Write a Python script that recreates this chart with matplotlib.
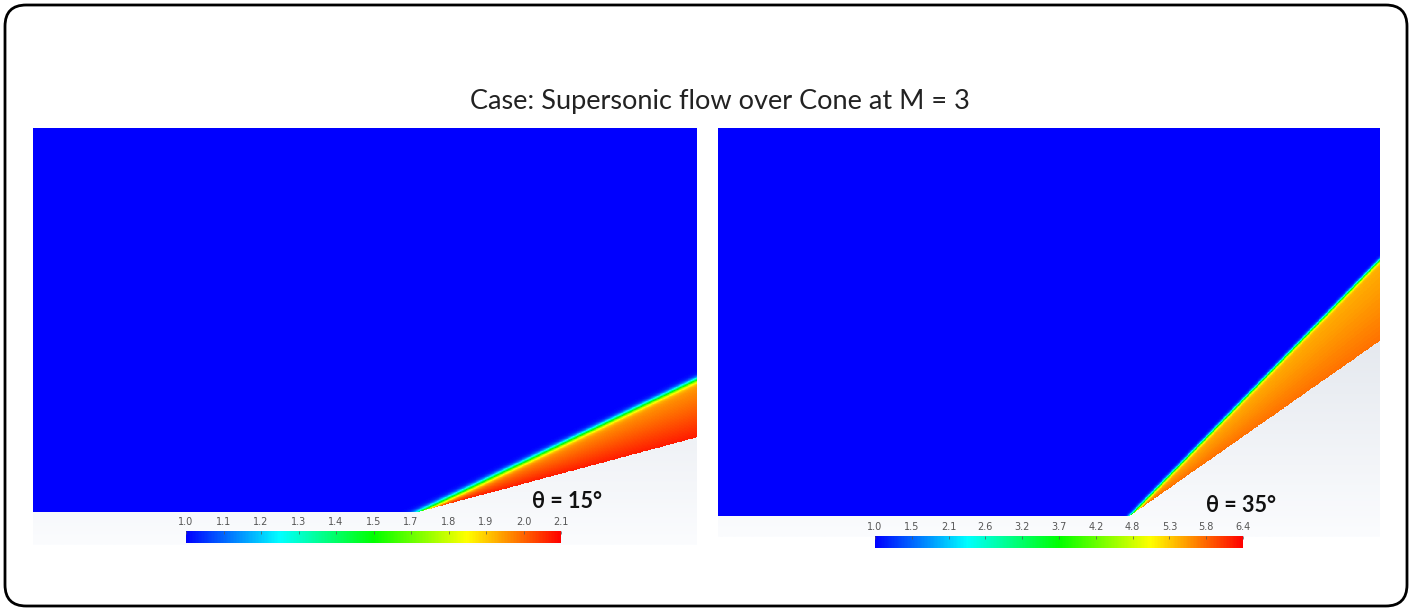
import numpy as np
import matplotlib
matplotlib.use('Agg')
from matplotlib import pyplot as plt
from matplotlib.colors import LinearSegmentedColormap, Normalize
from matplotlib.cm import ScalarMappable
from matplotlib.patches import FancyBboxPatch

W, H = 1414, 611

title = 'Case: Supersonic flow over Cone at M = 3'
case_labels = ['θ = 15°', 'θ = 35°']
cone_angles = [15.0, 35.0]        # cone half angle, deg
shock_angles = [25.5, 45.7]       # shock angle, deg
value_inf = [1.0, 1.0]            # free stream
value_shock_side = [1.92, 5.45]   # just behind the shock
value_wall_side = [2.07, 5.80]    # at the cone surface
cbar_ranges = [(1.0, 2.1), (1.0, 6.4)]
cbar_labels = [
    ['1.0', '1.1', '1.2', '1.3', '1.4', '1.5', '1.7', '1.8', '1.9', '2.0', '2.1'],
    ['1.0', '1.5', '2.1', '2.6', '3.2', '3.7', '4.2', '4.8', '5.3', '5.8', '6.4'],
]

# layout in figure pixels
panels = [
    dict(x0=33, x1=697, top=128, wall=512, bottom=545, tip=419, shock_w=0.008),
    dict(x0=718, x1=1380, top=128, wall=516, bottom=537, tip=1130, shock_w=0.0045),
]
cbar_boxes = [(186, 561, 531, 543), (875, 1243, 536, 548)]
label_pos = [(567, 501), (1241, 505)]

cmap = LinearSegmentedColormap.from_list(
    'bluered', ['#0000ff', '#00ffff', '#00ff00', '#ffff00', '#ff0000'])
bg_cmap = LinearSegmentedColormap.from_list('bg', ['#fbfcfe', '#cdd4de'])


def px_axes(fig, x0, x1, y0, y1):
    return fig.add_axes([x0 / W, 1 - y1 / H, (x1 - x0) / W, (y1 - y0) / H])


def draw_panel(fig, i):
    p = panels[i]
    ax = px_axes(fig, p['x0'], p['x1'], p['top'], p['bottom'])
    h = p['wall'] - p['top']
    xl = -(p['tip'] - p['x0']) / h
    xr = (p['x1'] - p['tip']) / h
    yb = -(p['bottom'] - p['wall']) / h

    # light background of the scene
    grad = np.linspace(0, 1, 256)[:, None]
    ax.imshow(grad, extent=(xl, xr, yb, 1), origin='lower', cmap=bg_cmap,
              aspect='auto', interpolation='bilinear')

    # field behind the conical shock
    x = np.linspace(xl, xr, 1400)
    y = np.linspace(0, 1, 900)
    X, Y = np.meshgrid(x, y)
    th = np.radians(cone_angles[i])
    be = np.radians(shock_angles[i])
    d = Y * np.cos(be) - X * np.sin(be)
    phi = np.arctan2(Y, X)
    t = np.clip((phi - th) / (be - th), 0, 1)
    v_post = value_wall_side[i] + (value_shock_side[i] - value_wall_side[i]) * t
    s = 0.5 * (1 - np.tanh(d / p['shock_w']))
    val = value_inf[i] + (v_post - value_inf[i]) * s
    val = np.ma.masked_where((X > 0) & (Y < X * np.tan(th)), val)

    vmin, vmax = cbar_ranges[i]
    ax.imshow(val, extent=(xl, xr, 0, 1), origin='lower', cmap=cmap,
              vmin=vmin, vmax=vmax, aspect='auto', interpolation='nearest')
    ax.set_xlim(xl, xr)
    ax.set_ylim(yb, 1)
    ax.axis('off')

    # colour bar
    cx0, cx1, cy0, cy1 = cbar_boxes[i]
    cax = px_axes(fig, cx0, cx1, cy0, cy1)
    cb = fig.colorbar(ScalarMappable(norm=Normalize(vmin, vmax), cmap=cmap),
                      cax=cax, orientation='horizontal')
    cb.outline.set_visible(False)
    cb.set_ticks(np.linspace(vmin, vmax, len(cbar_labels[i])))
    cb.set_ticklabels(cbar_labels[i])
    cax.xaxis.set_ticks_position('top')
    cax.tick_params(axis='x', direction='in', length=2, width=0.5,
                    colors='#555555', labelsize=7, pad=3)

    lx, ly = label_pos[i]
    fig.text(lx / W, 1 - ly / H, case_labels[i], ha='center', va='center',
             fontsize=15.5, fontweight='bold', family=['Lato', 'DejaVu Sans'],
             color='#111111')


fig = plt.figure(figsize=(W / 100, H / 100), dpi=100)
fig.patch.set_facecolor('white')

for i in range(2):
    draw_panel(fig, i)

fig.text(720 / W, 1 - 102 / H, title, ha='center', va='center', fontsize=19.5,
         family=['Lato', 'DejaVu Sans'], color='#222222')

# rounded frame
frame = FancyBboxPatch((5 / W, 5 / H), 1402 / W, 601 / H,
                       boxstyle='round,pad=0,rounding_size=0.015',
                       transform=fig.transFigure, fill=False,
                       edgecolor='black', linewidth=2,
                       mutation_aspect=W / H)
fig.patches.append(frame)

fig.savefig('out.png', dpi=100)
